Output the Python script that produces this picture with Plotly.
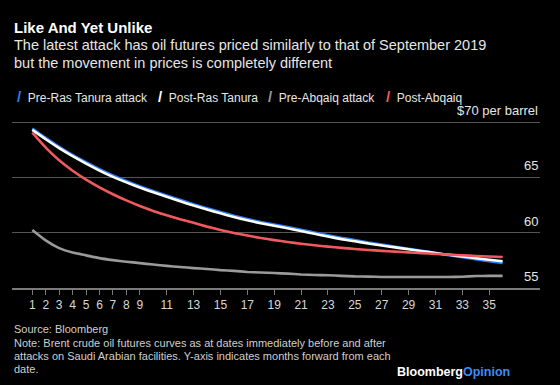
import plotly.graph_objects as go

# ---------------- data ----------------
months = list(range(1, 37))

pre_ras_tanura = [69.42, 68.57, 67.77, 67.04, 66.37, 65.74, 65.17, 64.67, 64.20, 63.77,
                  63.37, 62.97, 62.57, 62.22, 61.87, 61.54, 61.24, 60.97, 60.74, 60.52,
                  60.27, 60.02, 59.77, 59.54, 59.34, 59.12, 58.93, 58.73, 58.55, 58.36,
                  58.17, 57.96, 57.78, 57.61, 57.43, 57.26]
post_ras_tanura = [69.30, 68.45, 67.65, 66.92, 66.25, 65.62, 65.05, 64.55, 64.08, 63.65,
                   63.25, 62.85, 62.45, 62.10, 61.75, 61.42, 61.12, 60.85, 60.62, 60.40,
                   60.15, 59.90, 59.65, 59.42, 59.22, 59.03, 58.85, 58.67, 58.50, 58.33,
                   58.16, 58.00, 57.85, 57.70, 57.55, 57.42]
pre_abqaiq = [60.25, 59.30, 58.60, 58.20, 57.95, 57.70, 57.52, 57.38, 57.25, 57.12,
              57.00, 56.90, 56.80, 56.72, 56.62, 56.55, 56.45, 56.40, 56.35, 56.30,
              56.22, 56.18, 56.15, 56.10, 56.05, 56.03, 56.00, 56.00, 56.00, 56.00,
              56.00, 56.00, 56.02, 56.08, 56.10, 56.10]
post_abqaiq = [69.05, 67.70, 66.55, 65.60, 64.80, 64.10, 63.48, 62.92, 62.42, 61.97,
               61.57, 61.21, 60.89, 60.55, 60.25, 59.98, 59.74, 59.52, 59.33, 59.16,
               59.00, 58.86, 58.74, 58.63, 58.53, 58.44, 58.36, 58.29, 58.22, 58.15,
               58.08, 58.02, 57.96, 57.90, 57.85, 57.80]

series_names = ["Pre-Ras Tanura attack", "Post-Ras Tanura", "Pre-Abqaiq attack", "Post-Abqaiq"]
series_values = [pre_ras_tanura, post_ras_tanura, pre_abqaiq, post_abqaiq]
series_colors = ["#2f7cf0", "#ffffff", "#9a9a9a", "#f05a5f"]

x_tick_vals = [1, 2, 3, 4, 5, 6, 7, 8, 9, 11, 13, 15, 17, 19, 21, 23, 25, 27, 29, 31, 33, 35]
y_tick_vals = [55, 60, 65, 70]
y_tick_text = ["55", "60", "65", "$70 per barrel"]

# ---------------- layout helpers ----------------
W, H = 560, 385
ML, MR, MT, MB = 12, 20, 100, 97
PW, PH = W - ML - MR, H - MT - MB
Y_MIN = 55
Y_MAX = 55 + PH / 11.06


def px(xp):
    return (xp - ML) / PW


def py(yp):
    return (H - MB - yp) / PH


FONT = "Liberation Sans, Arial, sans-serif"

fig = go.Figure()
for name, vals, col in zip(series_names, series_values, series_colors):
    fig.add_trace(go.Scatter(x=months, y=vals, name=name, mode="lines",
                             line=dict(color=col, width=2.6, shape="spline", smoothing=0.4),
                             showlegend=False))

annotations = [
    dict(text="<b>Like And Yet Unlike</b>", x=px(12), y=py(27),
         font=dict(size=15, color="#ffffff")),
    dict(text="The latest attack has oil futures priced similarly to that of September 2019",
         x=px(12), y=py(45), font=dict(size=14.5, color="#e6e6e6")),
    dict(text="but the movement in prices is completely different",
         x=px(12), y=py(63), font=dict(size=14.5, color="#e6e6e6")),
    dict(text="Source: Bloomberg", x=px(12), y=py(329), font=dict(size=11, color="#cfcfcf")),
    dict(text="Note: Brent crude oil futures curves as at dates immediately before and after",
         x=px(12), y=py(343), font=dict(size=11, color="#cfcfcf")),
    dict(text="attacks on Saudi Arabian facilities. Y-axis indicates months forward from each",
         x=px(12), y=py(356), font=dict(size=11, color="#cfcfcf")),
    dict(text="date.", x=px(12), y=py(369), font=dict(size=11, color="#cfcfcf")),
]

# legend built from the series lists
legend_x = [15, 156, 266, 384]
for name, col, lx in zip(series_names, series_colors, legend_x):
    annotations.append(dict(
        text=f"<b><span style='color:{col};font-size:15px'>/</span></b>  {name}",
        x=px(lx), y=py(96), font=dict(size=12, color="#e6e6e6")))

for a in annotations:
    a.update(xref="paper", yref="paper", xanchor="left", yanchor="middle",
             showarrow=False, align="left")

# y-axis labels sitting above their gridlines, right-aligned
for v, t in zip(y_tick_vals, y_tick_text):
    annotations.append(dict(
        text=t, xref="paper", yref="y", x=1, y=v, xanchor="right", yanchor="bottom",
        yshift=2, showarrow=False, font=dict(size=13, color="#e6e6e6")))

annotations.append(dict(
    text="<b>Bloomberg<span style='color:#3b8cf7'>Opinion</span></b>",
    xref="paper", yref="paper", x=px(512), y=py(372), xanchor="right", yanchor="middle",
    showarrow=False, font=dict(size=12.5, color="#ffffff")))

fig.update_layout(
    width=W, height=H,
    margin=dict(l=ML, r=MR, t=MT, b=MB, pad=0),
    paper_bgcolor="#000000", plot_bgcolor="#000000",
    font=dict(family=FONT, color="#e6e6e6"),
    showlegend=False,
    annotations=annotations,
    xaxis=dict(
        range=[-0.51, 38.78], tickmode="array", tickvals=x_tick_vals,
        showgrid=False, zeroline=False,
        showline=True, linecolor="#7a7a7a", linewidth=1.5,
        ticks="outside", ticklen=5, tickcolor="#7a7a7a", tickwidth=1,
        tickfont=dict(size=12, color="#d9d9d9"), fixedrange=True,
    ),
    yaxis=dict(
        range=[Y_MIN, Y_MAX], side="right", tickmode="array",
        tickvals=y_tick_vals, showticklabels=False,
        showgrid=True, gridcolor="#555555", gridwidth=1.2,
        zeroline=False, showline=False, ticks="", fixedrange=True,
    ),
)

fig.write_html("out.html", config={"displayModeBar": False},
               post_script="document.body.style.margin='0';")
